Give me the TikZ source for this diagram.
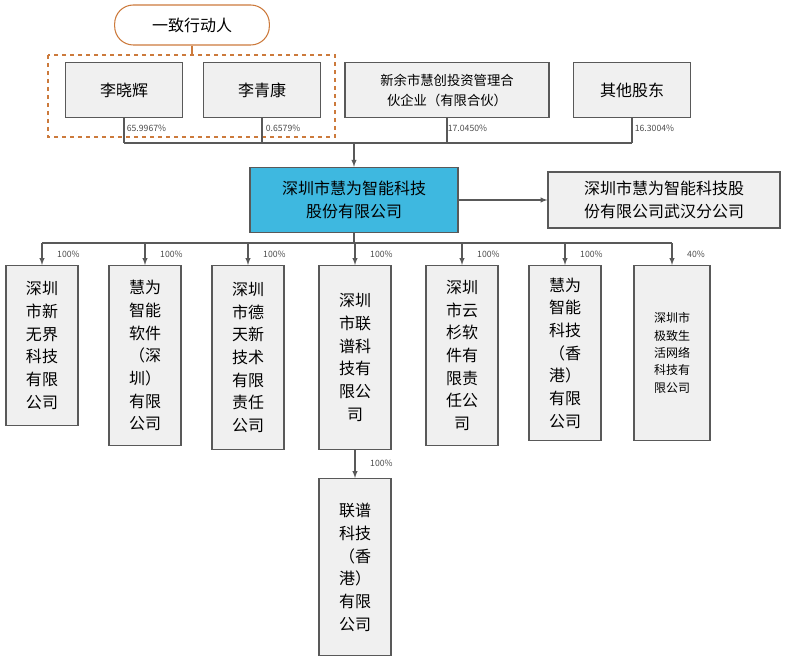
\documentclass[tikz,border=0pt]{standalone}
\usepackage{fontspec}
\setmainfont{Noto Sans CJK SC}
\usetikzlibrary{positioning,arrows}
\tikzset{>=latex}
\definecolor{boxfill}{RGB}{240,240,240}
\definecolor{mainfill}{RGB}{62,184,224}
\definecolor{orangeline}{RGB}{204,122,60}
\tikzstyle{place}=[draw=gray!70!black, fill=boxfill, font=\fontsize{12}{17}\selectfont, align=center, inner sep=2pt]
\tikzstyle{pct}=[font=\fontsize{6.5}{7}\selectfont, text=gray!60!black, inner sep=1pt]

\begin{document}
\begin{tikzpicture}[x=0.75pt, y=-0.75pt, line width=0.8pt]
        \useasboundingbox (0,0) rectangle (798,670);

        % Top
        \node at (192,25) [draw=orangeline, rounded corners=14pt, minimum width=116pt, minimum height=30pt, font=\fontsize{12}{14}\selectfont] (actor) {一致行动人};
        \draw [orangeline, dashed, line width=1pt] (48,55) rectangle (335,137);
        \draw [orangeline] (actor.south) -- (192,55);

        % Shareholders
        \node at (124,90) [place, minimum width=88pt, minimum height=41pt] (holder_1) {李晓辉};
        \node at (262,90) [place, minimum width=88pt, minimum height=41pt] (holder_2) {李青康};
        \node at (447,90) [place, minimum width=153pt, minimum height=41pt, font=\fontsize{10}{15}\selectfont] (holder_3) {新余市慧创投资管理合\\伙企业（有限合伙）};
        \node at (632,90) [place, minimum width=88pt, minimum height=41pt] (holder_4) {其他股东};

        % Company
        \node at (354,200) [place, fill=mainfill, minimum width=156pt, minimum height=49pt] (main) {深圳市慧为智能科技\\股份有限公司};
        \node at (664,200) [place, minimum width=174pt, minimum height=42pt] (branch) {深圳市慧为智能科技股\\份有限公司武汉分公司};

        \coordinate (top_bus) at (354,143);
        \foreach \i in {1,...,4}
          \draw [gray!70!black] (holder_\i.south) -- (holder_\i.south |- top_bus);
        \draw [gray!70!black] (holder_1.south |- top_bus) -- (holder_4.south |- top_bus);
        \draw [->, gray!70!black] (top_bus) -- (main.north);
        \draw [->, gray!70!black] (main.east) -- (branch.west);

        \node [pct, anchor=west] at (125,128) {65.9967\%};
        \node [pct, anchor=west] at (264,128) {0.6579\%};
        \node [pct, anchor=west] at (446,128) {17.0450\%};
        \node [pct, anchor=west] at (633,128) {16.3004\%};

        % Subsidiaries
        \node at (42,265) [place, anchor=north, minimum width=54pt, minimum height=120pt] (sub_1) {深圳\\市新\\无界\\科技\\有限\\公司};
        \node at (145,265) [place, anchor=north, minimum width=54pt, minimum height=135pt] (sub_2) {慧为\\智能\\软件\\（深\\圳）\\有限\\公司};
        \node at (248,265) [place, anchor=north, minimum width=54pt, minimum height=138pt] (sub_3) {深圳\\市德\\天新\\技术\\有限\\责任\\公司};
        \node at (355,265) [place, anchor=north, minimum width=54pt, minimum height=138pt] (sub_4) {深圳\\市联\\谱科\\技有\\限公\\司};
        \node at (462,265) [place, anchor=north, minimum width=54pt, minimum height=135pt] (sub_5) {深圳\\市云\\杉软\\件有\\限责\\任公\\司};
        \node at (565,265) [place, anchor=north, minimum width=54pt, minimum height=131pt] (sub_6) {慧为\\智能\\科技\\（香\\港）\\有限\\公司};
        \node at (672,265) [place, anchor=north, minimum width=57pt, minimum height=131pt, font=\fontsize{9}{13}\selectfont] (sub_7) {深圳市\\极致生\\活网络\\科技有\\限公司};

        \coordinate (bottom_bus) at (354,243);
        \draw [gray!70!black] (main.south) -- (bottom_bus);
        \draw [gray!70!black] (sub_1.north |- bottom_bus) -- (sub_7.north |- bottom_bus);
        \foreach \i in {1,...,7}
          \draw [->, gray!70!black] (sub_\i.north |- bottom_bus) -- (sub_\i.north);
        \foreach \i in {1,...,6}
          \node [pct, anchor=west] at ([xshift=10pt, yshift=8pt] sub_\i.north) {100\%};
        \node [pct, anchor=west] at ([xshift=10pt, yshift=8pt] sub_7.north) {40\%};

        % Second level
        \node at (355,478) [place, anchor=north, minimum width=54pt, minimum height=133pt] (grand_1) {联谱\\科技\\（香\\港）\\有限\\公司};
        \draw [->, gray!70!black] (sub_4.south) -- (grand_1.north);
        \node [pct, anchor=west] at ([xshift=10pt, yshift=-10pt] sub_4.south) {100\%};
      \end{tikzpicture}
\end{document}
